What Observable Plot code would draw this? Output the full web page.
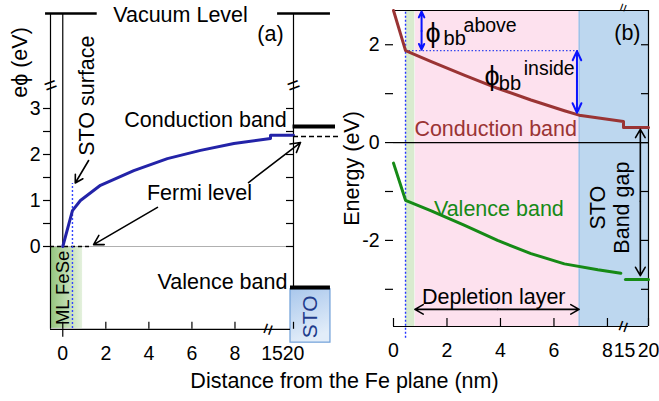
<!DOCTYPE html>
<html><head><meta charset="utf-8">
<script src="https://cdn.jsdelivr.net/npm/d3@7"></script>
<script src="https://cdn.jsdelivr.net/npm/@observablehq/plot@0.6"></script>
<style>
body{margin:0;background:#fff;}
#chart{position:relative;width:659px;height:401px;overflow:hidden;}
#chart svg{position:absolute;left:0;top:0;}
</style></head><body><div id="chart"></div>
<script>
// ================= DATA =================
// ---- panel (a): electrostatic potential ----
const xTicksA = [0, 2, 4, 6, 8, 20];
const xLabelsA = [0, 2, 4, 6, 8, 15, 20];
const yTicksA = [0, 0.5, 1, 1.5, 2, 2.5, 3];
const yLabelsA = [0, 1, 2, 3];
const potX = [0, 0.45, 0.82, 1.75, 3.3, 4.86, 6.4, 7.95, 9.65, 9.65, 20];
const potE = [0, 0.78, 1.0, 1.33, 1.65, 1.91, 2.09, 2.24, 2.35, 2.42, 2.42];
const vacuumE = 5;
const stoCbE = 2.61;     // STO conduction band (bulk)
const stoFermiE = 2.39;  // Fermi level (bulk STO)
const stoVbE = -0.89;    // STO valence band top
const stoSurfaceX = 0.45;

// ---- panel (b): band diagram ----
const xTicksB = [0, 2, 4, 6, 8, 20];
const xLabelsB = [0, 2, 4, 6, 8, 15, 20];
const yTicksB = [-3, -2, -1, 0, 1, 2];
const yLabelsB = [-2, 0, 2];
const cbX = [0, 0.45, 1.39, 2.64, 3.89, 5.14, 6.39, 6.94, 8.6, 8.6, 20];
const cbE = [2.7, 1.88, 1.66, 1.38, 1.11, 0.87, 0.65, 0.56, 0.43, 0.31, 0.31];
const vbX = [0, 0.45, 1.39, 2.64, 3.89, 5.14, 6.39, 7.64, 8.5];
const vbE = [-0.42, -1.18, -1.39, -1.69, -2.0, -2.27, -2.48, -2.6, -2.67];
const vbStoX = [15.2, 20];
const vbStoE = [-2.8, -2.8];
const phiSurfaceE = 1.88;
const feseEnd = 0.8;
const depletionEnd = 6.94;

// ================= HELPERS =================
const W = 659, H = 401;
const FONT = '"Liberation Sans", Arial, Helvetica, sans-serif';
const pts = (xs, ys) => xs.map((x, i) => ({x, E: ys[i]}));
function addDefs(svg, html) {
  const defs = document.createElementNS("http://www.w3.org/2000/svg", "defs");
  defs.innerHTML = html;
  svg.insertBefore(defs, svg.firstChild);
}
const chart = document.getElementById("chart");

// ================= PANEL (a) =================
const xA = {domain: [-0.57, 9.65, 15, 20, 31], range: [50, 270, 271.5, 293, 339.2]};
const yA = {domain: [-1.8, 3.5, 5], range: [328.8, 85, 13]};
const fwA = 243, fhA = 315.8;
const xMinA = -0.57, yMinA = -1.8;

const svgA = Plot.plot({
  width: W, height: H,
  marginLeft: 50, marginRight: W - 293, marginTop: 13, marginBottom: H - 328.8,
  style: {background: "transparent", fontFamily: FONT, fontSize: "21px", overflow: "visible"},
  x: {type: "linear", ...xA, axis: null},
  y: {type: "linear", ...yA, axis: null},
  marks: [
    // ML FeSe box and STO block
    Plot.rect([{x1: xMinA, x2: 0.92, y1: -1.78, y2: 0}], {x1: "x1", x2: "x2", y1: "y1", y2: "y2", fill: "url(#gFeSe)"}),
    Plot.rect([{x1: 19.3, x2: 28.8, y1: -2.09, y2: -0.93}], {x1: "x1", x2: "x2", y1: "y1", y2: "y2", fill: "url(#gSTO)", stroke: "#6f9fd8", strokeWidth: 1.2}),
    Plot.text(["STO"], {x: 24, y: -1.53, text: d => d, rotate: -90, fill: "#1f3c8c", fontSize: 21}),
    Plot.text(["ML FeSe"], {x: 0.03, y: -0.9, text: d => d, rotate: -90, fontSize: 18.5}),
    // zero (Fermi) level
    Plot.ruleY([0], {x1: xMinA, x2: 20, stroke: "#b0b0b0", strokeWidth: 1.2}),
    Plot.ruleY([0], {x1: xMinA, x2: 1.3, stroke: "black", strokeWidth: 1.6, strokeDasharray: "4,3"}),
    // axis / frame lines
    Plot.ruleX([xMinA], {stroke: "black", strokeWidth: 1.2}),
    Plot.ruleX([0], {y1: 0, y2: vacuumE, stroke: "black", strokeWidth: 1.2}),
    Plot.ruleX([20], {y1: stoVbE, y2: vacuumE, stroke: "black", strokeWidth: 1.2}),
    Plot.ruleY([yMinA], {x1: xMinA, x2: 19.3, stroke: "black", strokeWidth: 1.2}),
    // ticks
    Plot.ruleY(yTicksA, {y: d => d, insetLeft: -7, insetRight: fwA, stroke: "black", strokeWidth: 1.2}),
    Plot.ruleY(yTicksA, {y: d => d, insetLeft: fwA - 7, insetRight: 0, stroke: "black", strokeWidth: 1.2}),
    Plot.ruleX(xTicksA, {x: d => d, insetTop: fhA - 7, stroke: "black", strokeWidth: 1.2}),
    Plot.ruleX([0], {x: d => d, insetTop: fhA, insetBottom: -8, stroke: "black", strokeWidth: 1.2}),
    // tick labels
    Plot.text(xLabelsA, {x: d => d, y: yMinA, dy: 24, text: d => String(d), fontSize: 19.5}),
    Plot.text(yLabelsA, {x: xMinA, y: d => d, dx: -10, textAnchor: "end", text: d => String(d), fontSize: 19.5}),
    // STO surface marker
    Plot.ruleX([stoSurfaceX], {y1: -1.78, y2: 1.37, stroke: "#3344ff", strokeWidth: 1.4, strokeDasharray: "2,2"}),
    // potential curve
    Plot.line(pts(potX, potE), {x: "x", y: "E", stroke: "#2323a8", strokeWidth: 3}),
    // vacuum level
    Plot.ruleY([vacuumE], {x1: -0.8, x2: 1.6, stroke: "black", strokeWidth: 2.5}),
    Plot.ruleY([vacuumE], {x1: 16.3, x2: 28.8, stroke: "black", strokeWidth: 2.5}),
    // bulk STO levels
    Plot.ruleY([stoCbE], {x1: 19.9, x2: 30, stroke: "black", strokeWidth: 4}),
    Plot.ruleY([stoFermiE], {x1: 20, x2: 31, stroke: "black", strokeWidth: 1.6, strokeDasharray: "5,3"}),
    Plot.ruleY([stoVbE], {x1: 19.3, x2: 28.8, stroke: "black", strokeWidth: 4}),
    // labels
    Plot.text([
      {x: 5.47, E: 4.96, t: "Vacuum Level"},
      {x: 9.65, E: 4.58, t: "(a)"},
      {x: 6.63, E: 2.74, t: "Conduction band"},
      {x: 6.35, E: 1.15, t: "Fermi level"},
      {x: 7.42, E: -0.78, t: "Valence band"}
    ], {x: "x", y: "E", text: "t", fontSize: 21.5}),
    Plot.text(["STO surface"], {x: 1.15, y: 3.28, text: d => d, rotate: -90, fontSize: 21.5}),
    Plot.text(["eϕ (eV)"], {frameAnchor: "top-left", dx: -30, dy: 49, textAnchor: "middle", lineAnchor: "middle", text: d => d, rotate: -90, fontSize: 21.5}),
    Plot.text(["Distance from the Fe plane (nm)"], {frameAnchor: "bottom", dx: 172.5, dy: 52, textAnchor: "middle", lineAnchor: "middle", text: d => d, fontSize: 21.5}),
    // arrows
    Plot.arrow([
      {x1: 1.2, E1: 1.87, x2: 0.58, E2: 1.38},
      {x1: 4.4, E1: 0.85, x2: 1.43, E2: 0.04},
      {x1: 8.63, E1: 1.39, x2: 21.67, E2: 2.26}
    ], {x1: "x1", y1: "E1", x2: "x2", y2: "E2", stroke: "black", strokeWidth: 1.6, headLength: 10}),
    // axis breaks
    Plot.text([{x: xMinA, E: 3.5}, {x: 20, E: 3.5}], {x: "x", y: "E", text: () => "=", rotate: -20, fontSize: 22}),
    Plot.text([{x: 9.55, E: yMinA}], {x: "x", y: "E", text: () => "=", rotate: -70, fontSize: 20})
  ]
});
addDefs(svgA, `
  <linearGradient id="gFeSe" x1="0" y1="0" x2="1" y2="0">
    <stop offset="0" stop-color="#93c47d"/><stop offset="1" stop-color="#e4f1dd"/>
  </linearGradient>
  <linearGradient id="gSTO" x1="0" y1="0" x2="0.3" y2="1">
    <stop offset="0" stop-color="#a9c7ec"/><stop offset="1" stop-color="#e2edf9"/>
  </linearGradient>`);
chart.appendChild(svgA);

// ================= PANEL (b) =================
const xB = {domain: [0, 8.6, 15, 20], range: [393, 623, 624, 648]};
const yB = {domain: [-3.76, 2.7], range: [326, 10]};
const fwB = 255, fhB = 316;
const yMinB = -3.76, yMaxB = 2.7;
const red = "#9a3434", green = "#168a16", blue = "#0a14ff";

const svgB = Plot.plot({
  width: W, height: H,
  marginLeft: 393, marginRight: W - 648, marginTop: 10, marginBottom: H - 326,
  style: {background: "transparent", fontFamily: FONT, fontSize: "21px", overflow: "visible"},
  x: {type: "linear", ...xB, axis: null},
  y: {type: "linear", ...yB, axis: null},
  marks: [
    // regions
    Plot.rect([
      {x1: stoSurfaceX, x2: feseEnd, c: "#d9ebcf"},
      {x1: feseEnd, x2: depletionEnd, c: "#fde1ee"},
      {x1: depletionEnd, x2: 20, c: "#bdd7ef"}
    ], {x1: "x1", x2: "x2", y1: yMinB, y2: yMaxB, fill: "c", insetLeft: 0.5}),
    Plot.ruleX([depletionEnd], {stroke: "#8fb9e4", strokeWidth: 1.2}),
    // frame
    Plot.ruleY([yMaxB], {stroke: "black", strokeWidth: 1.2}),
    Plot.ruleY([yMinB], {stroke: "black", strokeWidth: 1.2}),
    Plot.ruleX([20], {stroke: "black", strokeWidth: 1.2}),
    Plot.ruleY([0], {stroke: "black", strokeWidth: 1.2}),
    // ticks
    Plot.ruleY(yTicksB, {y: d => d, insetLeft: -8, insetRight: fwB, stroke: "black", strokeWidth: 1.2}),
    Plot.ruleY(yTicksB, {y: d => d, insetLeft: fwB - 7, insetRight: 0, stroke: "black", strokeWidth: 1.2}),
    Plot.ruleX(xTicksB, {x: d => d, insetTop: fhB - 8, stroke: "black", strokeWidth: 1.2}),
    // tick labels
    Plot.text(xLabelsB, {x: d => d, y: yMinB, dy: 24, text: d => String(d), fontSize: 19.5}),
    Plot.text(yLabelsB, {x: 0, y: d => d, dx: -14, textAnchor: "end", text: d => String(d), fontSize: 19.5}),
    Plot.text(["Energy (eV)"], {frameAnchor: "left", dx: -41, textAnchor: "middle", lineAnchor: "middle", text: d => d, rotate: -90, fontSize: 21.5}),
    // dotted guides
    Plot.ruleX([stoSurfaceX], {y1: -4.0, y2: yMaxB, stroke: "#2233ff", strokeWidth: 1.4, strokeDasharray: "2,2"}),
    Plot.ruleY([phiSurfaceE], {x1: stoSurfaceX, x2: depletionEnd, stroke: "#3344ee", strokeWidth: 1.4, strokeDasharray: "1.5,2"}),
    // bands
    Plot.line(pts(cbX, cbE), {x: "x", y: "E", stroke: red, strokeWidth: 3}),
    Plot.line(pts(vbX, vbE), {x: "x", y: "E", stroke: green, strokeWidth: 3}),
    Plot.line(pts(vbStoX, vbStoE), {x: "x", y: "E", stroke: green, strokeWidth: 3}),
    // arrows (double-headed drawn as two halves)
    Plot.arrow([
      {x1: 1.05, E1: 2.28, x2: 1.05, E2: 2.68},
      {x1: 1.05, E1: 2.28, x2: 1.05, E2: 1.9},
      {x1: 6.86, E1: 1.25, x2: 6.86, E2: 1.87},
      {x1: 6.86, E1: 1.25, x2: 6.86, E2: 0.61}
    ], {x1: "x1", y1: "E1", x2: "x2", y2: "E2", stroke: blue, strokeWidth: 2, headLength: 9, headAngle: 50}),
    Plot.arrow([
      {x1: 3.9, E1: -3.41, x2: feseEnd, E2: -3.41},
      {x1: 3.9, E1: -3.41, x2: depletionEnd, E2: -3.41},
      {x1: 18.3, E1: -1.2, x2: 18.3, E2: 0.27},
      {x1: 18.3, E1: -1.2, x2: 18.3, E2: -2.72}
    ], {x1: "x1", y1: "E1", x2: "x2", y2: "E2", stroke: "black", strokeWidth: 1.6, headLength: 9}),
    // labels
    Plot.text([{x: 3.82, E: 0.27, t: "Conduction band"}], {x: "x", y: "E", text: "t", fill: red, fontSize: 21.5}),
    Plot.text([{x: 3.94, E: -1.35, t: "Valence band"}], {x: "x", y: "E", text: "t", fill: green, fontSize: 21.5}),
    Plot.text([{x: 3.75, E: -3.15, t: "Depletion layer"}, {x: 15.6, E: 2.23, t: "(b)"}], {x: "x", y: "E", text: "t", fontSize: 21.5}),
    Plot.text([{x: 7.65, E: -1.33, t: "STO"}, {x: 8.55, E: -1.33, t: "Band gap"}], {x: "x", y: "E", text: "t", rotate: -90, fontSize: 21.5}),
    // phi_bb labels
    Plot.text([{x: 1.2, E: 2.23}, {x: 3.4, E: 1.35}], {x: "x", y: "E", text: () => "ϕ", textAnchor: "start", fontSize: 27}),
    Plot.text([{x: 1.87, E: 2.12}, {x: 3.94, E: 1.2}], {x: "x", y: "E", text: () => "bb", textAnchor: "start", fontSize: 20}),
    Plot.text([{x: 2.62, E: 2.39, t: "above"}, {x: 4.87, E: 1.51, t: "inside"}], {x: "x", y: "E", text: "t", textAnchor: "start", fontSize: 19.5}),
    // axis breaks
    Plot.text([{x: 8.6, E: yMinB}], {x: "x", y: "E", text: () => "=", rotate: -70, fontSize: 20}),
    Plot.text([{x: 8.6, E: yMaxB}], {x: "x", y: "E", text: () => "=", rotate: -70, fontSize: 14, dy: -3})
  ]
});
chart.appendChild(svgB);
</script></body></html>
